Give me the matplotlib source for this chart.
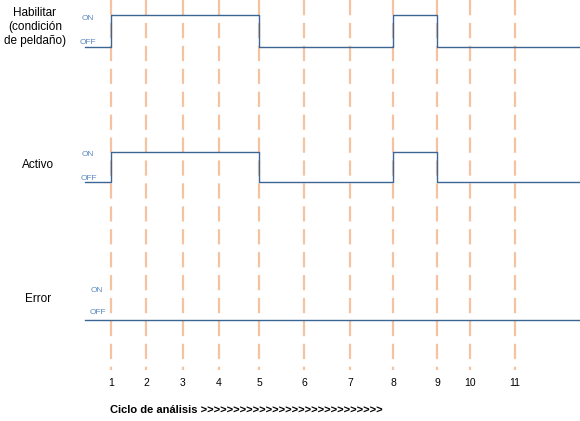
import matplotlib.pyplot as plt

plt.rcParams['font.family'] = ['Liberation Sans', 'DejaVu Sans']
plt.rcParams['lines.scale_dashes'] = False

# cycle numbers and where each cycle line sits on the time axis
cycles = [1, 2, 3, 4, 5, 6, 7, 8, 9, 10, 11]
cycle_pos = [111, 146, 183, 219, 259, 304, 350, 393, 437, 470, 515]

# signal state (1 = ON) after each cycle line
habilitar = [1, 1, 1, 1, 0, 0, 0, 1, 0, 0, 0]
activo = [1, 1, 1, 1, 0, 0, 0, 1, 0, 0, 0]
error = [0, 0, 0, 0, 0, 0, 0, 0, 0, 0, 0]

signal_names = ['Habilitar\n(condición\nde peldaño)', 'Activo', 'Error']
signals = [habilitar, activo, error]

x_start, x_end = 85, 580
rows = [(15, 47), (152, 182), (289, 320)]   # (ON level, OFF level)
name_pos = [(35, 27), (38, 165), (38, 299)]
on_pos = [(82, 18), (82, 154), (91, 290)]
off_pos = [(80, 42), (81, 178), (90, 313)]

fig = plt.figure(figsize=(5.8, 4.21), dpi=100)
ax = fig.add_axes([0, 0, 1, 1])
ax.set_xlim(0, 580)
ax.set_ylim(421, 0)
ax.axis('off')

# dashed cycle markers
for x in cycle_pos:
    ax.plot([x, x], [0, 370], color='#f5c3a2', lw=1.6,
            dashes=(11, 5.5), zorder=1)

label_col = '#5b88c0'
for name, states, (on_y, off_y), npos, opos, fpos in zip(
        signal_names, signals, rows, name_pos, on_pos, off_pos):
    ax.text(npos[0], npos[1], name, ha='center', va='center', fontsize=8.5,
            linespacing=1.25)
    ax.text(opos[0], opos[1], 'ON', color=label_col, fontsize=6,
            va='center', ha='left')
    ax.text(fpos[0], fpos[1], 'OFF', color=label_col, fontsize=6,
            va='center', ha='left')

    xs = [x_start] + cycle_pos + [x_end]
    lev = [off_y] + [on_y if s else off_y for s in states]
    px, py = [], []
    for i, y in enumerate(lev):
        px += [xs[i], xs[i + 1]]
        py += [y, y]
    ax.plot(px, py, color='#3d6594', lw=1.0, zorder=2)

for c, x in zip(cycles, cycle_pos):
    ax.text(x, 383, str(c), ha='center', va='center', fontsize=7.5)

ax.text(110, 410, 'Ciclo de análisis ' + '>' * 28, ha='left', va='center',
        fontsize=8, fontweight='bold')

fig.savefig('out.png', dpi=100)
